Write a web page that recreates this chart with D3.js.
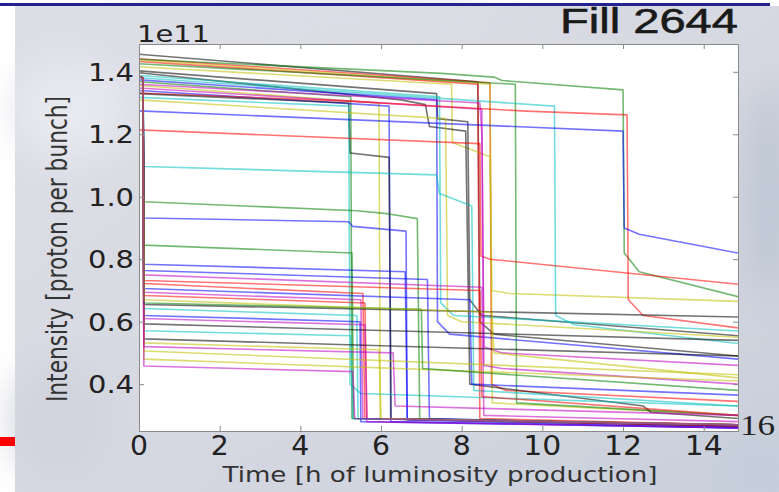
<!DOCTYPE html>
<html><head><meta charset="utf-8">
<script src="https://cdn.jsdelivr.net/npm/d3@7"></script>
<style>html,body{margin:0;padding:0;background:#fff;overflow:hidden}</style>
</head><body><svg id="c" width="779" height="492"></svg>
<script>
// ---------- data ----------
const xTicks = [0, 2, 4, 6, 8, 10, 12, 14];
const xTickLabels = ["0", "2", "4", "6", "8", "10", "12", "14"];
const yTicks = [0.4, 0.6, 0.8, 1.0, 1.2, 1.4];
const yTickLabels = ["0.4", "0.6", "0.8", "1.0", "1.2", "1.4"];
const xDomain = [0, 14.85];
const yDomain = [0.25, 1.489];
const titleText = "Fill 2644";
const pageNumber = "16";
const offsetText = "1e11";
const xLabel = "Time [h of luminosity production]";
const yLabel = "Intensity [proton per bunch]";

const bunchColors = [
  "k","r","y","g","r","g","y","k","k","c","c","b","g","y","m","b","r","k","c","y","b","r","m",
  "b","g","g","c","b","b","m","r","r","b","m","r","k","c","b","m","k","c","k","y","y","y","m","g","y","m"
];
const bunchPaths = [
  [[0,1.456],[8.4,1.368],[8.45,0.60],[8.8,0.56],[14.85,0.49]],
  [[0,1.442],[8.7,1.365],[8.74,0.40],[9.1,0.38],[14.85,0.345]],
  [[0,1.438],[8.7,1.36],[8.76,0.34],[14.85,0.30]],
  [[0,1.44],[7.5,1.395],[8.8,1.383],[9.0,1.372],[12.0,1.342],[12.03,0.82],[12.4,0.76],[14.85,0.68]],
  [[0,1.433],[8.4,1.36],[8.45,0.29],[14.85,0.27]],
  [[0,1.426],[9.33,1.36],[9.36,0.34],[14.85,0.30]],
  [[0,1.416],[7.75,1.36],[7.77,1.174],[8.7,1.128],[8.75,0.70],[9.2,0.69],[14.85,0.665]],
  [[0,1.403],[7.38,1.33],[7.4,1.25],[8.15,1.24],[8.2,0.67],[8.5,0.62],[14.85,0.555]],
  [[0,1.397],[6.5,1.31],[7.1,1.295],[7.2,1.225],[8.1,1.21],[8.2,0.40],[12.5,0.33],[12.7,0.31],[14.85,0.29]],
  [[0,1.388],[7.45,1.32],[7.48,0.66],[7.8,0.62],[14.85,0.57]],
  [[0,1.381],[10.3,1.29],[10.33,0.62],[10.8,0.59],[14.85,0.53]],
  [[0,1.374],[7.38,1.31],[7.4,0.60],[7.7,0.56],[14.85,0.48]],
  [[0,1.368],[5.25,1.32],[5.28,0.29],[14.85,0.27]],
  [[0,1.356],[5.95,1.30],[5.98,0.29],[14.85,0.27]],
  [[0,1.348],[8.5,1.28],[8.55,0.46],[9.0,0.45],[14.85,0.40]],
  [[0,1.34],[6.2,1.29],[6.24,0.28],[14.85,0.26]],
  [[0,1.332],[5.2,1.306],[9.6,1.274],[12.1,1.262],[12.13,0.67],[12.5,0.62],[14.85,0.58]],
  [[0,1.33],[5.2,1.30],[5.23,1.14],[6.2,1.126],[6.25,0.29],[14.85,0.27]],
  [[0,1.318],[5.2,1.29],[5.23,0.40],[5.5,0.37],[14.85,0.33]],
  [[0,1.31],[7.6,1.25],[7.65,0.62],[8.0,0.60],[14.85,0.55]],
  [[0,1.275],[12.0,1.21],[12.03,0.90],[12.4,0.88],[14.85,0.82]],
  [[0,1.214],[8.45,1.17],[8.48,0.81],[8.7,0.80],[14.85,0.72]],
  [[0,1.36],[8.45,1.30],[8.5,1.2],[8.55,0.52],[9.0,0.5],[14.85,0.46]],
  [[0,1.385],[0.1,1.38],[0.12,0.932],[5.2,0.92],[5.3,0.905],[6.62,0.89],[6.65,0.29],[14.85,0.265]],
  [[0,1.385],[0.1,1.38],[0.12,0.845],[5.28,0.82],[5.32,0.29],[14.85,0.265]],
  [[0,1.385],[0.1,1.38],[0.12,0.984],[5.4,0.955],[6.2,0.945],[6.9,0.93],[6.96,0.29],[14.85,0.265]],
  [[0,1.385],[0.1,1.38],[0.12,1.097],[7.38,1.07],[7.45,1.01],[8.25,0.97],[8.3,0.38],[14.85,0.33]],
  [[0,1.385],[0.1,1.38],[0.12,0.784],[6.6,0.76],[6.65,0.285],[14.85,0.26]],
  [[0,1.385],[0.1,1.38],[0.12,0.764],[7.15,0.735],[7.2,0.29],[14.85,0.265]],
  [[0,1.385],[0.1,1.38],[0.12,0.75],[8.5,0.71],[8.55,0.30],[14.85,0.28]],
  [[0,1.385],[0.1,1.38],[0.12,0.732],[8.45,0.70],[8.5,0.36],[14.85,0.30]],
  [[0,1.385],[0.1,1.38],[0.12,0.722],[5.55,0.69],[5.6,0.29],[14.85,0.265]],
  [[0,1.385],[0.1,1.38],[0.12,0.706],[8.2,0.67],[8.25,0.40],[14.85,0.365]],
  [[0,1.385],[0.1,1.38],[0.12,0.694],[5.5,0.67],[5.55,0.29],[14.85,0.27]],
  [[0,1.385],[0.1,1.38],[0.12,0.684],[5.6,0.66],[5.65,0.29],[14.85,0.27]],
  [[0,1.385],[0.1,1.38],[0.12,0.655],[14.85,0.615]],
  [[0,1.385],[0.1,1.38],[0.12,0.642],[5.4,0.62],[5.43,0.29],[14.85,0.27]],
  [[0,1.385],[0.1,1.38],[0.12,0.62],[5.48,0.60],[5.5,0.28],[14.85,0.26]],
  [[0,1.385],[0.1,1.38],[0.12,0.61],[5.6,0.59],[5.65,0.28],[14.85,0.26]],
  [[0,1.385],[0.1,1.38],[0.12,0.593],[14.85,0.54]],
  [[0,1.385],[0.1,1.38],[0.12,0.571],[5.25,0.555],[5.3,0.29],[14.85,0.27]],
  [[0,1.385],[0.1,1.38],[0.12,0.545],[14.85,0.49]],
  [[0,1.385],[0.1,1.38],[0.12,0.532],[5.95,0.51],[6.0,0.29],[14.85,0.27]],
  [[0,1.385],[0.1,1.38],[0.12,0.506],[14.85,0.43]],
  [[0,1.385],[0.1,1.38],[0.12,0.48],[14.85,0.41]],
  [[0,1.385],[0.1,1.38],[0.12,0.458],[5.3,0.44],[5.35,0.29],[14.85,0.27]],
  [[0,1.385],[0.1,1.38],[0.12,0.66],[7.0,0.64],[7.03,0.45],[14.85,0.38]],
  [[0,1.385],[0.1,1.38],[0.12,0.67],[8.75,0.63],[8.8,0.50],[14.85,0.42]],
  [[0,1.385],[0.1,1.38],[0.12,0.52],[6.3,0.50],[6.35,0.33],[14.85,0.30]]
];
const colorMap = {b:"#0000ff", g:"#008000", r:"#ff0000", c:"#00bfbf", m:"#bf00bf", y:"#bfbf00", k:"#000000"};

// ---------- drawing ----------
const svg = d3.select("#c");
const W = 779, H = 492;
const plot = {left:139, right:738, top:44, bottom:431};

const defs = svg.append("defs");
const lg = defs.append("linearGradient").attr("id","bg").attr("x1","0").attr("y1","0").attr("x2","1").attr("y2","1");
lg.append("stop").attr("offset","0%").attr("stop-color","#dedfe6");
lg.append("stop").attr("offset","55%").attr("stop-color","#d6d8e1");
lg.append("stop").attr("offset","100%").attr("stop-color","#c8cfdb");
const blur = defs.append("filter").attr("id","blur").attr("x","-50%").attr("y","-50%").attr("width","200%").attr("height","200%");
blur.append("feGaussianBlur").attr("stdDeviation", 18);

// page background
svg.append("rect").attr("width",W).attr("height",H).attr("fill","#ffffff");
svg.append("rect").attr("x",15).attr("y",6).attr("width",W-15).attr("height",H-6).attr("fill","url(#bg)");
const blobs = svg.append("g").attr("filter","url(#blur)");
blobs.append("ellipse").attr("cx",70).attr("cy",110).attr("rx",60).attr("ry",50).attr("fill","#e8e9ef");
blobs.append("ellipse").attr("cx",768).attr("cy",190).attr("rx",20).attr("ry",110).attr("fill","#bcc5d3");
blobs.append("ellipse").attr("cx",760).attr("cy",470).attr("rx",40).attr("ry",30).attr("fill","#c4cedc");
blobs.append("ellipse").attr("cx",300).attr("cy",20).attr("rx",200).attr("ry",20).attr("fill","#dcdee6");
blobs.append("ellipse").attr("cx",60).attr("cy",420).attr("rx",50).attr("ry",60).attr("fill","#d2d4dd");
svg.append("rect").attr("x",0).attr("y",3).attr("width",770).attr("height",3).attr("fill","#23238f");
svg.append("rect").attr("x",0).attr("y",437).attr("width",15).attr("height",9).attr("fill","#ff0000");

// scales
const x = d3.scaleLinear().domain(xDomain).range([plot.left, plot.right]);
const y = d3.scaleLinear().domain(yDomain).range([plot.bottom, plot.top]);

// plot area
svg.append("rect").attr("x",plot.left).attr("y",plot.top)
  .attr("width",plot.right-plot.left).attr("height",plot.bottom-plot.top).attr("fill","#ffffff");

svg.append("clipPath").attr("id","clip").append("rect")
  .attr("x",plot.left).attr("y",plot.top).attr("width",plot.right-plot.left).attr("height",plot.bottom-plot.top);

const line = d3.line().x(d => x(d[0])).y(d => y(d[1]));
svg.append("g").attr("clip-path","url(#clip)")
  .selectAll("path").data(bunchPaths).join("path")
  .attr("d", line)
  .attr("fill","none")
  .attr("stroke",(d,i) => colorMap[bunchColors[i]])
  .attr("stroke-opacity",0.55)
  .attr("stroke-width",1.6)
  .attr("stroke-linejoin","round");

// axes (matplotlib style, inward ticks on all sides)
const tickCol = "#8a8a8a";
const axB = svg.append("g").attr("transform",`translate(0,${plot.bottom})`)
  .call(d3.axisBottom(x).tickValues(xTicks).tickSize(-5).tickFormat(""));
const axT = svg.append("g").attr("transform",`translate(0,${plot.top})`)
  .call(d3.axisTop(x).tickValues(xTicks).tickSize(-5).tickFormat(""));
const axL = svg.append("g").attr("transform",`translate(${plot.left},0)`)
  .call(d3.axisLeft(y).tickValues(yTicks).tickSize(-5).tickFormat(""));
const axR = svg.append("g").attr("transform",`translate(${plot.right},0)`)
  .call(d3.axisRight(y).tickValues(yTicks).tickSize(-5).tickFormat(""));
[axB,axT,axL,axR].forEach(a => { a.selectAll("path").attr("stroke",tickCol); a.selectAll("line").attr("stroke",tickCol); });

const font = "'DejaVu Sans', sans-serif";
// x tick labels
svg.append("g").selectAll("text").data(xTicks).join("text")
  .attr("x", d => x(d)).attr("y", 455)
  .attr("text-anchor","middle")
  .attr("font-family",font).attr("font-size",26).attr("fill","#222")
  .attr("textLength",(d,i) => xTickLabels[i].length > 1 ? 38 : 18)
  .attr("lengthAdjust","spacingAndGlyphs")
  .text((d,i) => xTickLabels[i]);
// y tick labels
svg.append("g").selectAll("text").data(yTicks).join("text")
  .attr("x", 134).attr("y", d => y(d) + 9)
  .attr("text-anchor","end")
  .attr("font-family",font).attr("font-size",24).attr("fill","#222")
  .attr("textLength",46)
  .attr("lengthAdjust","spacingAndGlyphs")
  .text((d,i) => yTickLabels[i]);

// offset text
svg.append("text").attr("x",137).attr("y",42)
  .attr("font-family",font).attr("font-size",23).attr("fill","#222")
  .attr("textLength",73).attr("lengthAdjust","spacingAndGlyphs").text(offsetText);

// axis labels
svg.append("text").attr("x",440).attr("y",482).attr("text-anchor","middle")
  .attr("font-family",font).attr("font-size",21).attr("fill","#333")
  .attr("textLength",435).attr("lengthAdjust","spacingAndGlyphs").text(xLabel);
svg.append("text").attr("transform","translate(67,249) scale(1.27,1) rotate(-90)")
  .attr("text-anchor","middle")
  .attr("font-family",font).attr("font-size",21.7).attr("fill","#333")
  .text(yLabel);

// title and page number
svg.append("text").attr("x",560).attr("y",33)
  .attr("font-family","'Liberation Sans', Arial, sans-serif").attr("font-size",35).attr("fill","#1a1a1a")
  .attr("stroke","#1a1a1a").attr("stroke-width",0.6)
  .attr("textLength",178).attr("lengthAdjust","spacingAndGlyphs").text(titleText);
svg.append("text").attr("x",740).attr("y",435)
  .attr("font-family","'Liberation Serif', 'Times New Roman', serif").attr("font-size",30).attr("fill","#222")
  .attr("textLength",35).attr("lengthAdjust","spacingAndGlyphs").text(pageNumber);
</script>
</body></html>
